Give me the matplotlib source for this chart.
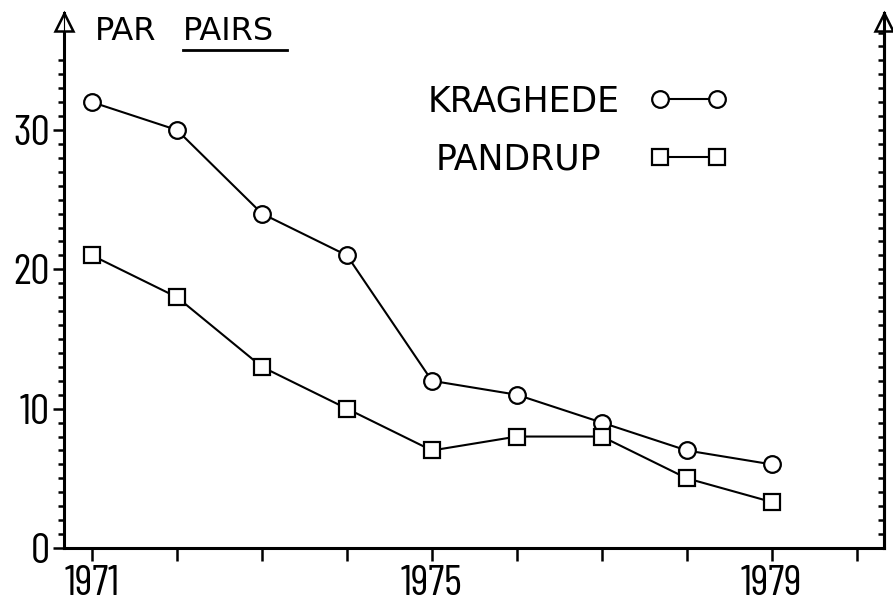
import matplotlib.pyplot as plt
from matplotlib.ticker import FixedLocator

years = [1971, 1972, 1973, 1974, 1975, 1976, 1977, 1978, 1979]
kraghede = [32, 30, 24, 21, 12, 11, 9, 7, 6]
pandrup = [21, 18, 13, 10, 7, 8, 8, 5, 3.3]
xlabels = ['1971', '', '', '', '1975', '', '', '', '1979', '']
ylabels = ['0', '10', '20', '30']

plt.rcParams['font.family'] = ['DejaVu Sans']
digits = ['Barlow Condensed', 'DejaVu Sans']

fig = plt.figure(figsize=(8.93, 6.04), dpi=100)
ax = fig.add_axes([64 / 893, 56 / 604, 820 / 893, 535 / 604])
ax.set_xlim(1970.67, 1980.32)
ax.set_ylim(0, 38.4)

ax.plot(years, kraghede, color='black', lw=1.5, marker='o', ms=12,
        mfc='white', mec='black', mew=1.6)
ax.plot(years, pandrup, color='black', lw=1.5, marker='s', ms=11,
        mfc='white', mec='black', mew=1.6)

for s in ['left', 'right', 'bottom']:
    ax.spines[s].set_linewidth(2.2)
ax.spines['top'].set_visible(False)

ax.set_yticks([0, 10, 20, 30])
ax.set_yticklabels(ylabels, fontsize=31, family=digits)
ax.yaxis.set_minor_locator(FixedLocator(range(1, 36)))
ax.tick_params(axis='y', which='major', direction='out', length=8, width=1.8, pad=2)
ax.tick_params(axis='y', which='minor', direction='out', length=4, width=1.8)

ax.set_xticks(range(1971, 1981))
ax.set_xticklabels(xlabels, fontsize=31, family=digits)
ax.tick_params(axis='x', direction='out', length=9, width=1.8, pad=3)

# right axis, ticks inward
ax2 = ax.twinx()
ax2.set_ylim(ax.get_ylim())
ax2.set_yticks(range(1, 38))
ax2.set_yticklabels([])
ax2.tick_params(axis='y', direction='in', length=4, width=1.8)
ax2.spines['top'].set_visible(False)
ax2.spines['right'].set_linewidth(2.2)

tr = ax.get_yaxis_transform()

# open arrow heads on both axes
for xa in [0, 1]:
    ax.plot([xa], [37.75], transform=tr, marker='^', ms=13,
            mfc='white', mec='black', mew=1.8, clip_on=False, zorder=5)

ax.text(0.0378, 36.47, 'PAR', transform=tr, fontsize=23, va='baseline', ha='left')
ax.text(0.1451, 36.47, 'PAIRS', transform=tr, fontsize=23, va='baseline', ha='left')
ax.plot([0.1451, 0.272], [35.75, 35.75], transform=tr, color='black', lw=2,
        clip_on=False)

# hand-drawn legend
ax.text(0.444, 31.3, 'KRAGHEDE', transform=tr, fontsize=25, va='baseline', ha='left')
ax.text(0.4537, 27.2, 'PANDRUP', transform=tr, fontsize=25, va='baseline', ha='left')
ax.plot([0.727, 0.796], [32.2, 32.2], transform=tr, color='black', lw=1.5,
        marker='o', ms=12, mfc='white', mec='black', mew=1.6)
ax.plot([0.727, 0.796], [28.1, 28.1], transform=tr, color='black', lw=1.5,
        marker='s', ms=11, mfc='white', mec='black', mew=1.6)

fig.savefig('out.png', dpi=100)
